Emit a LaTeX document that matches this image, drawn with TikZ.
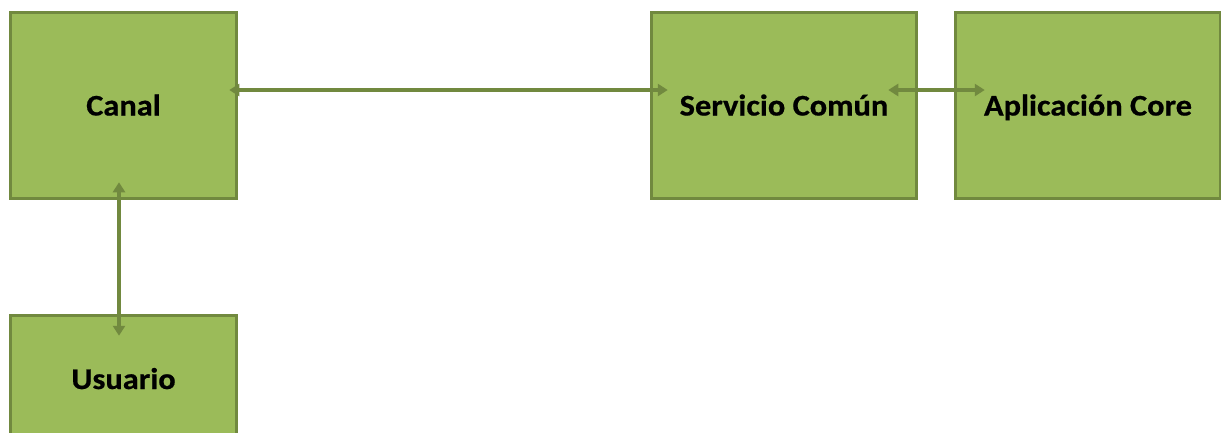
\documentclass[tikz,border=0pt]{standalone}
\usepackage{fontspec}
\newfontfamily\boxfont[FakeStretch=1.08, BoldFeatures={FakeBold=0.6}]{Carlito}
\usetikzlibrary{arrows.meta}
\definecolor{boxfill}{HTML}{9BBB59}
\definecolor{boxline}{HTML}{71893F}
\definecolor{linkline}{HTML}{71893F}
\begin{document}
\begin{tikzpicture}[x=1pt, y=1pt,
    box/.style={rectangle, draw=boxline, fill=boxfill, line width=3.5pt, minimum width=226pt, minimum height=186pt, inner sep=0pt, text height=20pt, text depth=0pt, font=\boxfont\bfseries\fontsize{30}{35}\selectfont},
    link/.style={draw=linkline, line width=3.5pt, {Triangle[width=12pt,length=10pt]}-{Triangle[width=12pt,length=10pt]}}]
    \useasboundingbox (0,0) rectangle (1221,-432);
    \begin{scope}
        \clip (0,0) rectangle (1221,-432);

        % Boxes.
        \node[box] (canal) at (123.5,-105.5) {Canal};
        \node[box, minimum height=127pt] (usuario) at (123.5,-379) {Usuario};
        \node[box, minimum width=265pt] (servicio) at (784,-105.5) {Servicio Común};
        \node[box, minimum width=265pt] (core) at (1088,-105.5) {Aplicación Core};

        % Connections.
        \draw[link] ([xshift=-9pt, yshift=15.5pt]canal.east) -- ([xshift=18pt, yshift=15.5pt]servicio.west);
        \draw[link] ([xshift=-30pt, yshift=15.5pt]servicio.east) -- ([xshift=31pt, yshift=15.5pt]core.west);
        \draw[link] ([xshift=-4.5pt, yshift=18pt]canal.south) -- ([xshift=-4.5pt, yshift=-22pt]usuario.north);
    \end{scope}
\end{tikzpicture}
\end{document}
